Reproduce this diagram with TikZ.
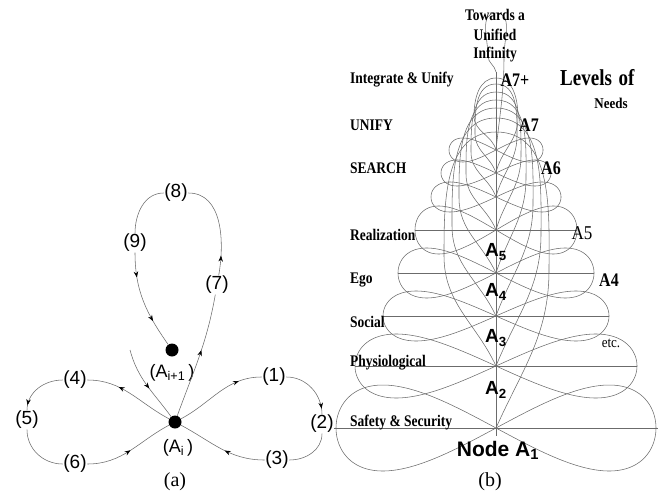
\documentclass[tikz,border=0pt]{standalone}
\usepackage{fontspec}
\setmainfont{Liberation Serif}
\newfontfamily\arialfont{Liberation Sans}
\usetikzlibrary{arrows.meta,decorations.markings}

\begin{document}
\begin{tikzpicture}[x=1pt,y=1pt,
  curve/.style={draw=black!58, line width=0.55pt},
  flow/.style={postaction={decorate,decoration={markings,
      mark=at position #1 with {\arrow[black]{Stealth[length=6pt,width=4.5pt]}}}}},
  numlab/.style={font=\arialfont\fontsize{19}{19}\selectfont, inner sep=0.6pt},
  dot/.style={circle, fill=black, minimum size=13pt, inner sep=0pt},
  lvl/.style={font=\bfseries\fontsize{13.5}{15}\selectfont, anchor=west, inner sep=0pt, yscale=1.2},
  tagtext/.style={font=\bfseries\fontsize{16}{18}\selectfont, inner sep=0pt, yscale=1.2},
  toptext/.style={font=\bfseries\fontsize{13.5}{15}\selectfont, inner sep=0pt, yscale=1.2},
  nodelab/.style={font=\arialfont\bfseries\fontsize{19}{20}\selectfont, inner sep=0pt},
  captext/.style={font=\fontsize{20}{22}\selectfont, inner sep=0pt},
]
\useasboundingbox (0,0) rectangle (668,496);

% ---------------- (a) one node with its figure eight and upward loop
\node[dot] (Ai) at (175,74) {};
\node[dot] (Aj) at (172,146) {};
\node[numlab] (p1) at (274,119) {(1)};
\node[numlab] (p2) at (322,72) {(2)};
\node[numlab] (p3) at (277,36) {(3)};
\node[numlab] (p4) at (75,116) {(4)};
\node[numlab] (p5) at (27,76) {(5)};
\node[numlab] (p6) at (75,32) {(6)};
\node[numlab] (p7) at (217,211) {(7)};
\node[numlab] (p8) at (176,303) {(8)};
\node[numlab] (p9) at (135,253) {(9)};
\node[font=\arialfont\fontsize{18}{18}\selectfont, inner sep=0pt] (Ailab) at (178,48) {(A\textsubscript{i}\,)};
\node[font=\arialfont\fontsize{18}{18}\selectfont, inner sep=0pt] (Ajlab) at (172,123) {(A\textsubscript{i+1}\,)};
\coordinate (c0) at (130,146);

\draw[curve, flow=0.75] (Ai) to[out=28,in=180] (p1);
\draw[curve, flow=0.9] (p1) to[out=0,in=90] (p2);
\draw[curve] (p2) to[out=-90,in=0] (p3);
\draw[curve, flow=0.45] (p3) to[out=180,in=-28] (Ai);
\draw[curve, flow=0.65] (Ai) to[out=152,in=0] (p4);
\draw[curve, flow=0.9] (p4) to[out=180,in=90] (p5);
\draw[curve] (p5) to[out=-90,in=180] (p6);
\draw[curve, flow=0.5] (p6) to[out=0,in=208] (Ai);
\draw[curve, flow=0.55] (Ai) to[out=70,in=-100] (p7);
\draw[curve, flow=0.2] (p7) to[out=80,in=0] (p8);
\draw[curve] (p8) to[out=180,in=90] (p9);
\draw[curve, flow=0.25, flow=0.72] (p9) to[out=-90,in=125] (Aj);
\draw[curve, flow=0.55] (c0) to[out=-75,in=126] (Ai);

\node[captext] (capa) at (175,14) {(a)};

% ---------------- (b) stacked levels of needs
\coordinate (A1) at (496,68);
\coordinate (A2) at (496,130);
\coordinate (A3) at (496,180);
\coordinate (A4) at (496,223);
\coordinate (A5) at (496,266);
\coordinate (A6) at (496,299);
\coordinate (A7) at (496,323);
\coordinate (A8) at (496,346);
\coordinate (axbot) at (496,60);
\coordinate (axtop) at (496,424);

% figure eights at every level
\foreach \n/\w/\h in {A1/160/43, A2/141/32, A3/113/25, A4/98/25, A5/81/24,
                      A6/65/15, A7/55/13, A8/47/12}
  \draw[curve, shift={(\n)}] plot[domain=0:360, samples=181, variable=\t]
    ({\w*sin(\t)},{\h*sin(2*\t)});

% level lines
\foreach \n/\w in {A1/162, A2/141, A3/113, A4/98, A5/81}
  \draw[curve] (\n) ++(-\w,0) -- ++(2*\w,0);

% central axis
\draw[curve] (axbot) -- (axtop);

% upward loops from one level into the next
\draw[curve] (A1) to[out=66,in=-90] (549,226) to[out=90,in=0] (496,364)
  to[out=180,in=90] (444,240) to[out=-90,in=115] (A2);
\draw[curve] (A2) to[out=68,in=-90] (541,262) to[out=90,in=0] (496,378)
  to[out=180,in=90] (452,270) to[out=-90,in=115] (A3);
\draw[curve] (A3) to[out=70,in=-90] (533,292) to[out=90,in=0] (496,388)
  to[out=180,in=90] (459,298) to[out=-90,in=115] (A4);
\draw[curve] (A4) to[out=72,in=-90] (526,318) to[out=90,in=0] (496,396)
  to[out=180,in=90] (466,322) to[out=-90,in=112] (A5);
\draw[curve] (A5) to[out=74,in=-90] (521,340) to[out=90,in=0] (496,404)
  to[out=180,in=90] (471,344) to[out=-90,in=110] (A6);
\draw[curve] (A6) to[out=76,in=-90] (517,360) to[out=90,in=0] (496,412)
  to[out=180,in=90] (475,362) to[out=-90,in=108] (A7);
\draw[curve] (A7) to[out=78,in=-90] (518,378) to[out=90,in=0] (496,418)
  to[out=180,in=90] (474,380) to[out=-90,in=105] (A8);
\draw[curve] (A8) to[out=84,in=-90] (504,440) to[out=90,in=0] (496,483)
  to[out=180,in=90] (488,440) to[out=-90,in=100] (axtop);

% level names
\node[lvl] (l8) at (350,416) {Integrate \& Unify};
\node[lvl] (l7) at (350,371) {UNIFY};
\node[lvl] (l6) at (350,328) {SEARCH};
\node[lvl] (l5) at (350,261) {Realization};
\node[lvl] (l4) at (350,216) {Ego};
\node[lvl] (l3) at (350,174) {Social};
\node[lvl] (l2) at (350,133) {Physiological};
\node[lvl] (l1) at (350,73) {Safety \& Security};

% right-hand tags
\node[tagtext] (t8) at (515,416) {A7+};
\node[tagtext] (t7) at (529,371) {A7};
\node[tagtext] (t6) at (551,328) {A6};
\node[font=\fontsize{17}{18}\selectfont, inner sep=0pt, yscale=1.15] (t5) at (582,263) {A5};
\node[tagtext] (t4) at (609,216) {A4};
\node[font=\fontsize{13}{14}\selectfont, inner sep=0pt, yscale=1.15] (etc) at (611,153) {etc.};
\node[font=\bfseries\fontsize{19}{21}\selectfont, anchor=west, inner sep=0pt, yscale=1.2] (lev) at (560,418) {Levels\hspace{0.35em}of};
\node[font=\bfseries\fontsize{13}{14}\selectfont, inner sep=0pt, yscale=1.15] (needs) at (611,393) {Needs};

% top caption
\node[toptext] (tw1) at (495,481) {Towards a};
\node[toptext] (tw2) at (495,461) {Unified};
\node[toptext] (tw3) at (495,441) {Infinity};

% node names on the axis
\node[nodelab] (n5) at (496,244) {A\textsubscript{5}};
\node[nodelab] (n4) at (496,204) {A\textsubscript{4}};
\node[nodelab] (n3) at (496,158) {A\textsubscript{3}};
\node[nodelab] (n2) at (496,106) {A\textsubscript{2}};
\node[font=\arialfont\bfseries\fontsize{21}{22}\selectfont, inner sep=0pt] (n1) at (498,46) {Node A\textsubscript{1}};

\node[captext] (capb) at (490,14) {(b)};
\end{tikzpicture}
\end{document}
